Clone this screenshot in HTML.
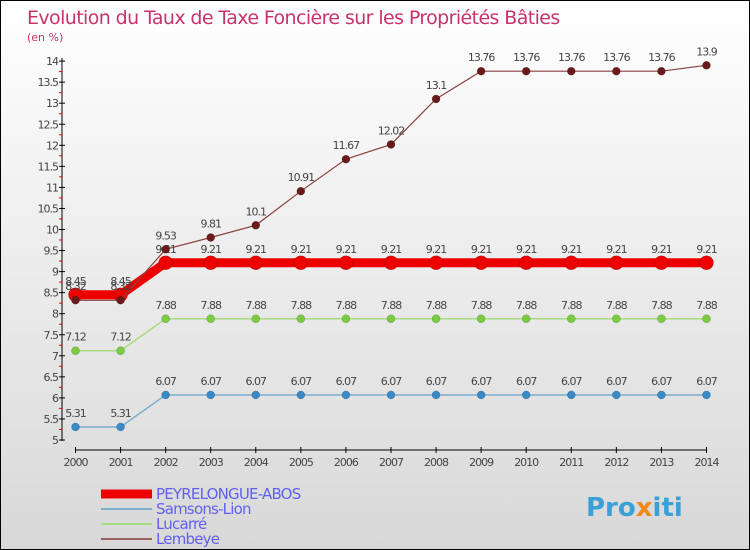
<!DOCTYPE html>
<html><head><meta charset="utf-8"><style>
body{margin:0;}
#wrap{position:relative;width:748px;height:548px;border:1px solid #000;background:linear-gradient(#ffffff,#d8d8d8);overflow:hidden;font-family:"DejaVu Sans","Liberation Sans",sans-serif;}
svg text{font-family:"DejaVu Sans","Liberation Sans",sans-serif;}
</style></head><body>
<div id="wrap">
<svg id="chart" width="748" height="548">
<text x="26" y="23" font-size="19" fill="#c8336a" style="letter-spacing:-0.6px">Evolution du Taux de Taxe Foncière sur les Propriétés Bâties</text>
<text x="26" y="40" font-size="11" fill="#c8336a">(en %)</text>
<g id="axes"></g><g id="series"></g><g id="legend"></g>
<text x="585" y="515" font-size="26" font-weight="bold" fill="#3aa0d8">Pro<tspan fill="#f08a1c">x</tspan>iti</text>
</svg></div>
<script>
const years=[2000,2001,2002,2003,2004,2005,2006,2007,2008,2009,2010,2011,2012,2013,2014];
const peyrelongue=[8.45,8.45,9.21,9.21,9.21,9.21,9.21,9.21,9.21,9.21,9.21,9.21,9.21,9.21,9.21];
const samsons=[5.31,5.31,6.07,6.07,6.07,6.07,6.07,6.07,6.07,6.07,6.07,6.07,6.07,6.07,6.07];
const lucarre=[7.12,7.12,7.88,7.88,7.88,7.88,7.88,7.88,7.88,7.88,7.88,7.88,7.88,7.88,7.88];
const lembeye=[8.32,8.32,9.53,9.81,10.1,10.91,11.67,12.02,13.1,13.76,13.76,13.76,13.76,13.76,13.9];
const yTicks=[5,5.5,6,6.5,7,7.5,8,8.5,9,9.5,10,10.5,11,11.5,12,12.5,13,13.5,14];
const seriesNames=["PEYRELONGUE-ABOS","Samsons-Lion","Lucarré","Lembeye"];
const NS="http://www.w3.org/2000/svg";
const xS=i=>74.5+i*45.07;
const yS=v=>439-(v-5)*42.1;
function mk(p,t,a){const e=document.createElementNS(NS,t);for(const k in a)e.setAttribute(k,a[k]);p.appendChild(e);return e;}
const ax=document.getElementById('axes');
let yl=mk(ax,'line',{x1:61,y1:57,x2:61,y2:440,stroke:'#000'});


yTicks.forEach(v=>{
  const y=yS(v);
  mk(ax,'line',{x1:58,y1:y,x2:64,y2:y,stroke:'#000'});
  mk(ax,'line',{x1:58,y1:y+10.5,x2:61,y2:y+10.5,stroke:v>5?'#e00':'none'});
  const t=mk(ax,'text',{x:57,y:y+4,'font-size':11,'text-anchor':'end',fill:'#444','letter-spacing':'-1'});
  t.textContent=String(v);
  
  
});
let xl=mk(ax,'line',{x1:74.5,y1:449,x2:xS(14),y2:449,stroke:'#000'});


years.forEach((yr,i)=>{
  mk(ax,'line',{x1:xS(i),y1:446,x2:xS(i),y2:452,stroke:'#000'});
  const t=mk(ax,'text',{x:xS(i),y:465,'font-size':11,'text-anchor':'middle',fill:'#444','letter-spacing':'-1'});
  t.textContent=yr;
  
  
});
const sg=document.getElementById('series');
function draw(data,color,dot,w,r,name,lblOff){
  const g=mk(sg,'g',{});
  
  
  mk(g,'polyline',{points:data.map((v,i)=>xS(i)+','+yS(v)).join(' '),fill:'none',stroke:color,'stroke-width':w});
  data.forEach((v,i)=>{
    const c=mk(g,'circle',{cx:xS(i),cy:yS(v),r:r,fill:dot,stroke:'rgba(0,0,0,0.3)','stroke-width':0.5});
    
    
    const t=mk(g,'text',{x:xS(i),y:yS(v)-lblOff,'font-size':11,'text-anchor':'middle',fill:'#444','letter-spacing':'-1'});
    t.textContent=String(v);
    
    
  });
}
draw(samsons,'#7aaed0','#3a8ac8',1.5,4,'series-samsons-lion',10);
draw(lucarre,'#a8dc80','#7acc40',1.5,4,'series-lucarre',10);
draw(peyrelongue,'#ee0000','#ee0000',9,7,'series-peyrelongue-abos',10);
draw(lembeye,'#8a4040','#6a1a1a',1.2,4,'series-lembeye',10);
const lg=document.getElementById('legend');
const lc=['#ee0000','#7aaed0','#a8dc80','#9a6060'],lw=[9,2,2,2],ly=[493,508,523,538];
seriesNames.forEach((n,i)=>{
  const g=mk(lg,'g',{});
  
  
  mk(g,'line',{x1:100,y1:ly[i],x2:151,y2:ly[i],stroke:lc[i],'stroke-width':lw[i]});
  const t=mk(g,'text',{x:155,y:ly[i]+5,'font-size':15,fill:'#6060f0','letter-spacing':'-0.8'});
  t.textContent=n;
});
</script>
</body></html>
